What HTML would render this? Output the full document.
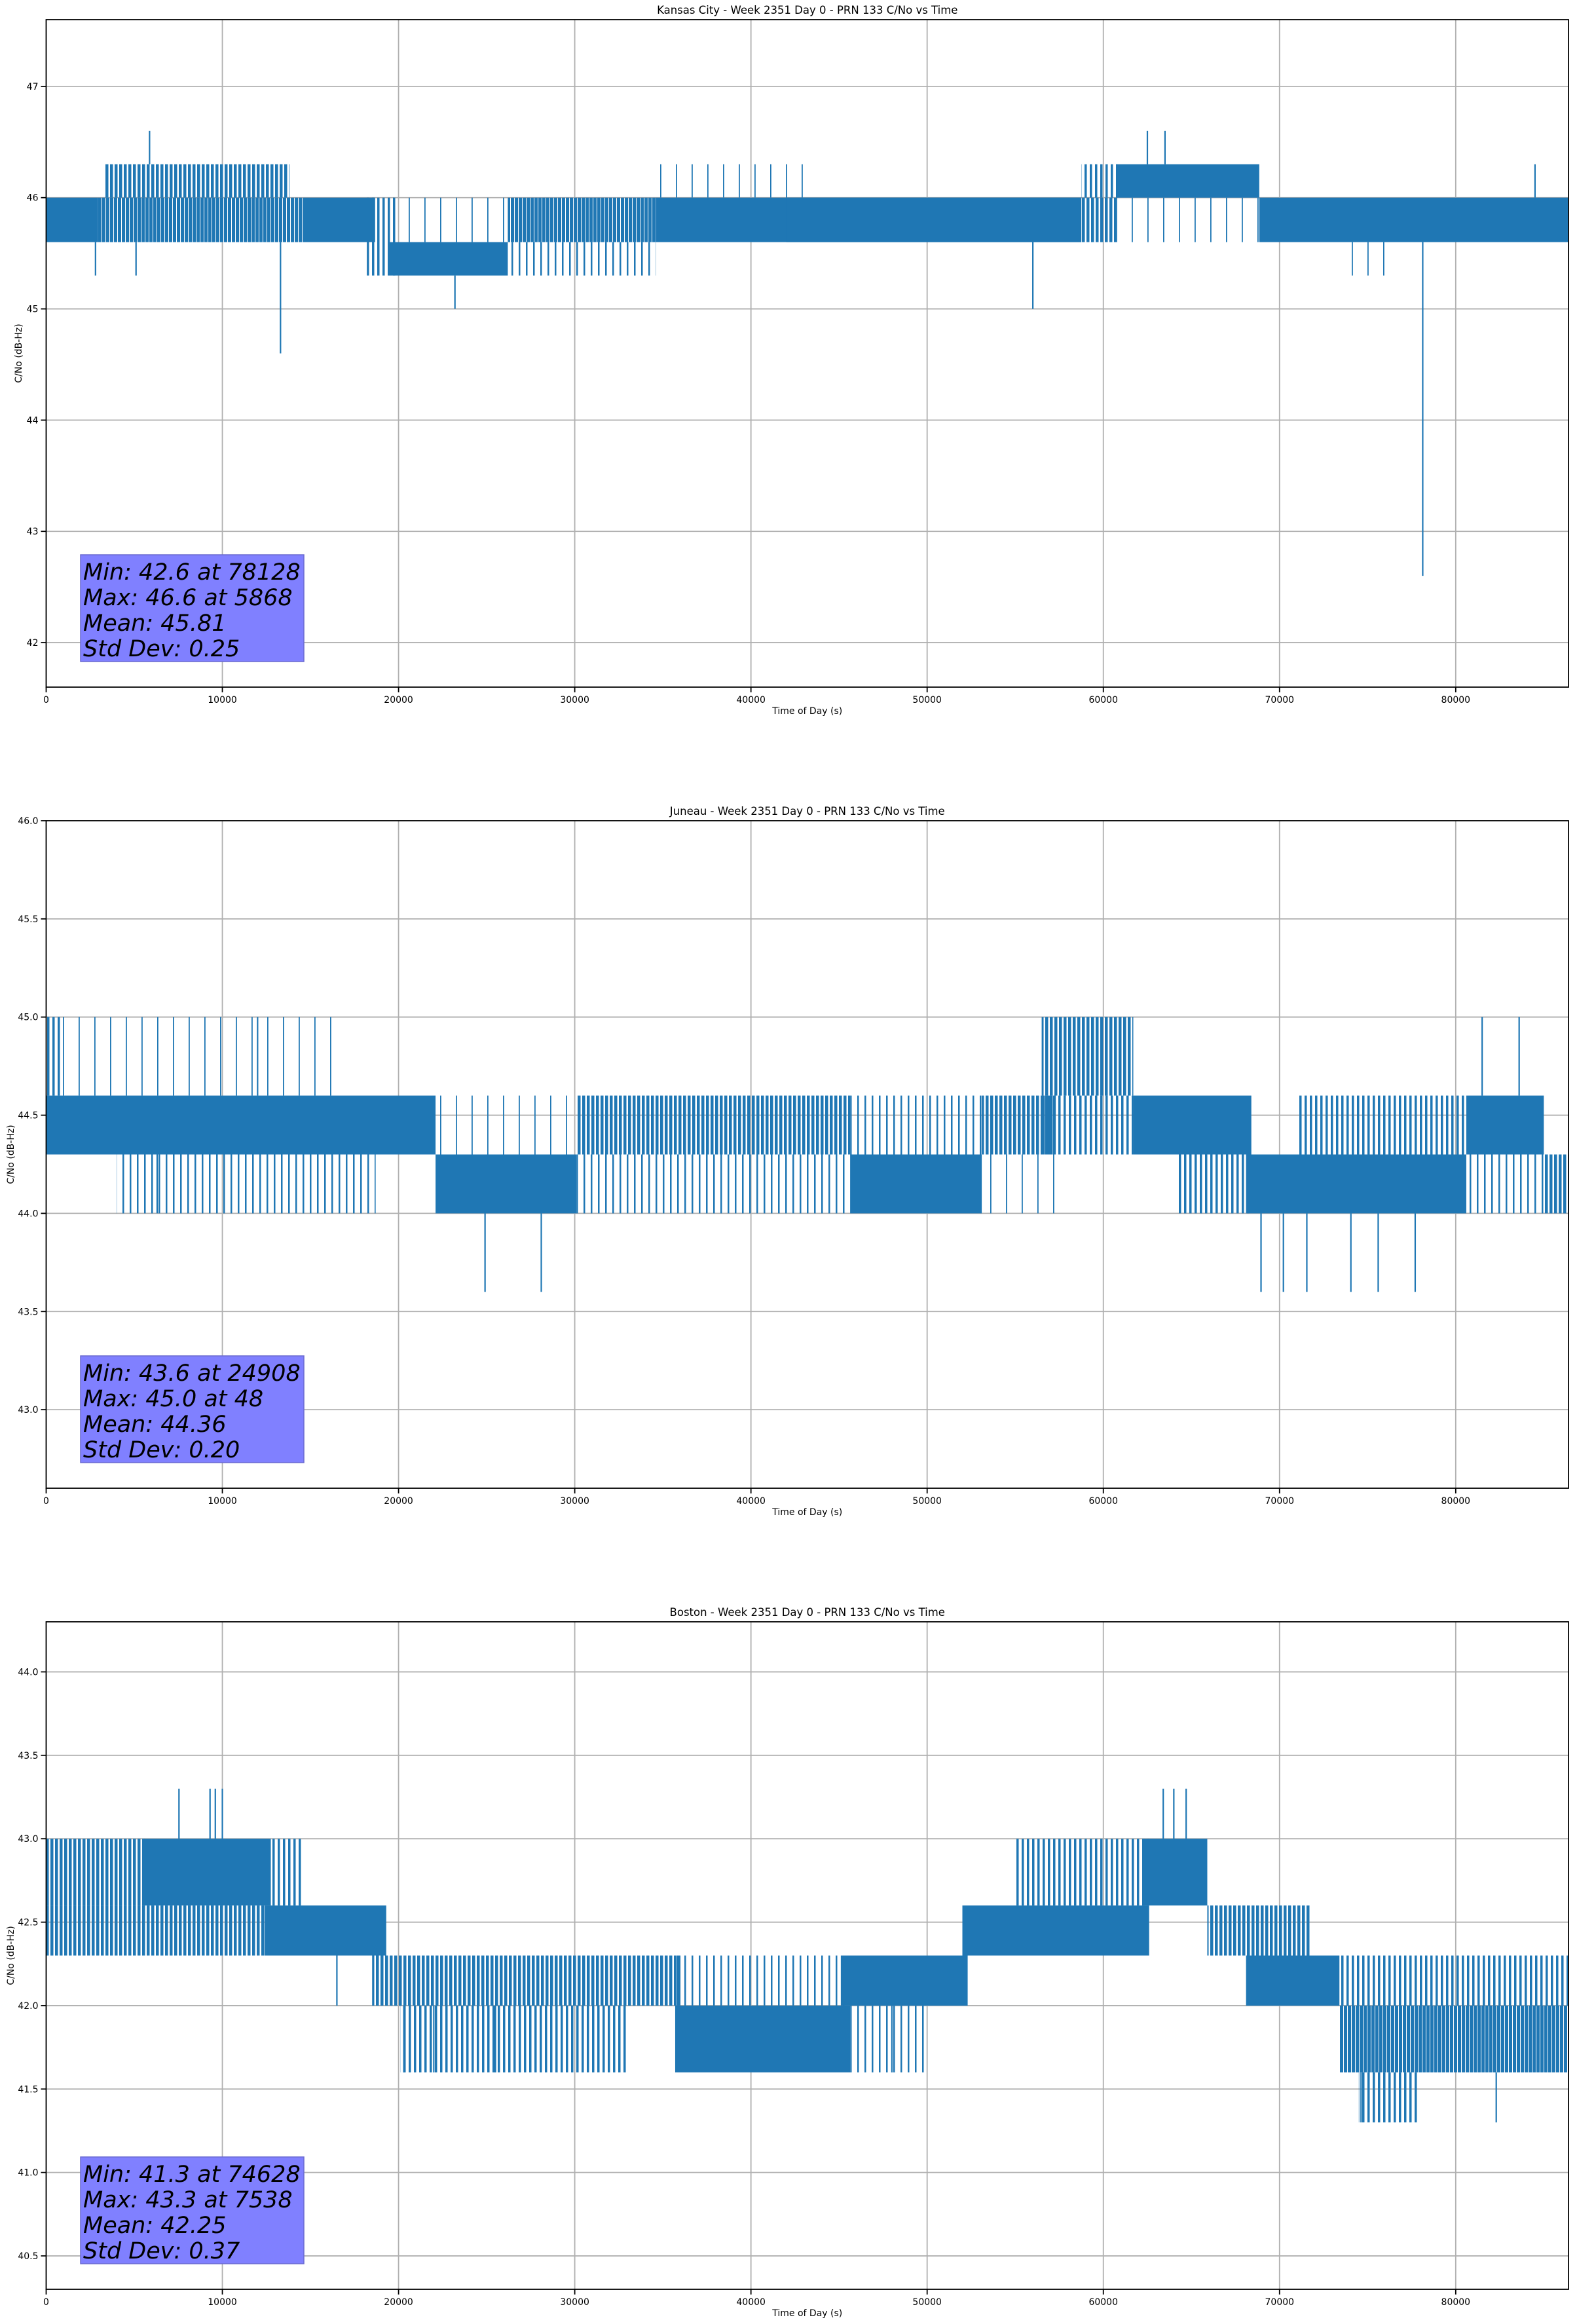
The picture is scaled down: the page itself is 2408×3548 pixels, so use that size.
<!DOCTYPE html>
<html><head><meta charset="utf-8">
<style>
html,body{margin:0;padding:0;background:#fff;}
svg{display:block;}
text{font-family:"DejaVu Sans","Liberation Sans",sans-serif;fill:#000;}
</style></head>
<body>
<svg id="fig" width="2408" height="3548" viewBox="0 0 2408 3548" xmlns="http://www.w3.org/2000/svg">
<defs>
<pattern id="p9" width="6" height="10" patternUnits="userSpaceOnUse"><rect width="5" height="10" fill="#1f77b4"/></pattern>
<pattern id="p7" width="7" height="10" patternUnits="userSpaceOnUse"><rect width="4.5" height="10" fill="#1f77b4"/></pattern>
<pattern id="p5" width="8" height="10" patternUnits="userSpaceOnUse"><rect width="3.5" height="10" fill="#1f77b4"/></pattern>
<pattern id="p3" width="11" height="10" patternUnits="userSpaceOnUse"><rect width="2.5" height="10" fill="#1f77b4"/></pattern>
<pattern id="p1" width="24" height="10" patternUnits="userSpaceOnUse"><rect width="1.8" height="10" fill="#1f77b4"/></pattern>
</defs>
</svg>
<script>
// ---- shared axis data ----
const xTicks = [0,10000,20000,30000,40000,50000,60000,70000,80000];
const xMax = 86400;

// ---- Kansas City ----
const kcTitle = "Kansas City - Week 2351 Day 0 - PRN 133 C/No vs Time";
const kcYLim = [41.6, 47.6];
const kcYTicks = [42,43,44,45,46,47];
const kcYTickLabels = ["42","43","44","45","46","47"];
const kcSegStart = [0,2950,3300,14550,18200,19500,19500,26200,26200,34600,34600,42000,58750,58750,60750,60750,68850,73300];
const kcSegEnd   = [2950,14550,13800,18670,19900,26200,26200,34600,34600,58750,43000,58750,60800,60800,68850,68850,86400,76700];
const kcSegLo    = [45.6,45.6,46.0,45.6,45.3,45.3,45.6,45.6,45.3,45.6,46.0,45.6,46.0,45.6,46.0,45.6,45.6,45.3];
const kcSegHi    = [46.0,46.0,46.3,46.0,46.0,45.6,46.0,46.0,45.6,46.0,46.3,46.0,46.3,46.0,46.3,46.0,46.0,45.6];
const kcSegDen   = [1,0.85,0.6,1,0.5,1,0.1,0.8,0.3,1,0.1,1,0.5,0.7,1,0.1,1,0.1];
const kcSpikeT   = [5868,13300,23200,56000,62500,63500,78128,2800,5100,84500];
const kcSpikeFrom= [46.3,45.6,45.3,45.6,46.3,46.3,45.6,45.6,45.6,46.0];
const kcSpikeTo  = [46.6,44.6,45.0,45.0,46.6,46.6,42.6,45.3,45.3,46.3];
const kcStats = ["Min: 42.6 at 78128","Max: 46.6 at 5868","Mean: 45.81","Std Dev: 0.25"];

// ---- Juneau ----
const jnTitle = "Juneau - Week 2351 Day 0 - PRN 133 C/No vs Time";
const jnYLim = [42.6, 46.0];
const jnYTicks = [43.0,43.5,44.0,44.5,45.0,45.5,46.0];
const jnYTickLabels = ["43.0","43.5","44.0","44.5","45.0","45.5","46.0"];
const jnSegStart = [0,0,4000,0,22100,22100,30100,30100,45650,45650,53100,53100,56500,56500,61700,64200,68100,71000,80600,80600,85000];
const jnSegEnd   = [800,22100,18700,16800,30100,30100,45650,45650,53100,53100,57300,57300,61700,61700,68400,68400,80600,80600,85000,85000,86400];
const jnSegLo    = [44.6,44.3,44.0,44.6,44.0,44.3,44.3,44.0,44.0,44.3,44.3,44.0,44.6,44.3,44.3,44.0,44.0,44.3,44.3,44.0,44.0];
const jnSegHi    = [45.0,44.6,44.3,45.0,44.3,44.6,44.6,44.3,44.3,44.6,44.6,44.3,45.0,44.6,44.6,44.3,44.3,44.6,44.6,44.3,44.3];
const jnSegDen   = [0.5,1,0.3,0.1,1,0.1,0.7,0.3,1,0.3,0.7,0.1,0.7,0.5,1,0.5,1,0.5,1,0.3,0.7];
const jnSpikeT   = [24908,28100,68950,70220,71550,74050,75600,77700,81500,83600,12000,6300];
const jnSpikeFrom= [44.0,44.0,44.0,44.0,44.0,44.0,44.0,44.0,44.6,44.6,44.6,44.3];
const jnSpikeTo  = [43.6,43.6,43.6,43.6,43.6,43.6,43.6,43.6,45.0,45.0,45.0,44.0];
const jnStats = ["Min: 43.6 at 24908","Max: 45.0 at 48","Mean: 44.36","Std Dev: 0.20"];

// ---- Boston ----
const bsTitle = "Boston - Week 2351 Day 0 - PRN 133 C/No vs Time";
const bsYLim = [40.3, 44.3];
const bsYTicks = [40.5,41.0,41.5,42.0,42.5,43.0,43.5,44.0];
const bsYTickLabels = ["40.5","41.0","41.5","42.0","42.5","43.0","43.5","44.0"];
const bsSegStart = [0,0,5550,12750,12400,18500,20100,35700,35700,45100,45650,52000,55000,62300,65900,68100,73400,73400,74500];
const bsSegEnd   = [5700,12400,12750,14470,19300,36000,32900,45650,45650,52300,50000,62600,62600,65900,71700,73400,86400,86400,77800];
const bsSegLo    = [42.6,42.3,42.6,42.6,42.3,42.0,41.6,41.6,42.0,42.0,41.6,42.3,42.6,42.6,42.3,42.0,41.6,42.0,41.3];
const bsSegHi    = [43.0,42.6,43.0,43.0,42.6,42.3,42.0,42.0,42.3,42.3,42.0,42.6,43.0,43.0,42.6,42.3,42.0,42.3,41.6];
const bsSegDen   = [0.6,0.75,1,0.5,1,0.7,0.5,1,0.3,1,0.3,1,0.5,1,0.7,1,0.9,0.5,0.5];
const bsSpikeT   = [7538,9300,9600,10000,63400,64000,64700,20300,22000,25500,74628,82300,16500,48000];
const bsSpikeFrom= [43.0,43.0,43.0,43.0,43.0,43.0,43.0,42.0,42.0,42.0,41.6,41.6,42.3,42.0];
const bsSpikeTo  = [43.3,43.3,43.3,43.3,43.3,43.3,43.3,41.6,41.6,41.6,41.3,41.3,42.0,41.6];
const bsStats = ["Min: 41.3 at 74628","Max: 43.3 at 7538","Mean: 42.25","Std Dev: 0.37"];

const NS = "http://www.w3.org/2000/svg";
const fig = document.getElementById('fig');
const AX_L = 70.5, AX_R = 2395, AX_H = 1019;
const tops = [30, 1253, 2476];

function mk(tag, attrs, parent){
  const e = document.createElementNS(NS, tag);
  for (const k in attrs) e.setAttribute(k, attrs[k]);
  parent.appendChild(e);
  return e;
}
function patFor(d){
  if (d >= 0.95) return "#1f77b4";
  if (d >= 0.8) return "url(#p9)";
  if (d >= 0.6) return "url(#p7)";
  if (d >= 0.4) return "url(#p5)";
  if (d >= 0.2) return "url(#p3)";
  return "url(#p1)";
}

function drawChart(idx, key, title, yLim, yTicks, yLabels, sS, sE, sL, sH, sD, kT, kF, kTo, stats){
  const top = tops[idx], bot = top + AX_H;
  const xs = v => AX_L + (v / xMax) * (AX_R - AX_L);
  const ys = v => bot - (v - yLim[0]) / (yLim[1] - yLim[0]) * AX_H;
  const g = mk('g', {}, fig);
  
  

  const grid = mk('g', {stroke:'#b0b0b0','stroke-width':1.8}, g);
  
  
  xTicks.forEach(t => mk('line', {x1:xs(t), x2:xs(t), y1:top, y2:bot}, grid));
  yTicks.forEach(t => mk('line', {x1:AX_L, x2:AX_R, y1:ys(t), y2:ys(t)}, grid));

  const clip = mk('clipPath', {id:'clip'+idx}, g);
  mk('rect', {x:AX_L, y:top, width:AX_R-AX_L, height:AX_H}, clip);
  const dg = mk('g', {'clip-path':'url(#clip'+idx+')'}, g);
  
  
  for (let i = 0; i < sS.length; i++){
    const r = mk('rect', {x:xs(sS[i]), width:Math.max(1.5, xs(sE[i]) - xs(sS[i])),
      y:ys(sH[i]), height:Math.max(2, ys(sL[i]) - ys(sH[i])), fill:patFor(sD[i])}, dg);
    
    
  }
  for (let i = 0; i < kT.length; i++){
    const l = mk('line', {x1:xs(kT[i]), x2:xs(kT[i]), y1:ys(kF[i]), y2:ys(kTo[i]), stroke:'#1f77b4','stroke-width':2.2}, dg);
    
    
  }

  const sp = mk('rect', {x:AX_L, y:top, width:AX_R-AX_L, height:AX_H, fill:'none', stroke:'#000','stroke-width':1.8}, g);
  
  

  const tg = mk('g', {}, g);
  
  
  xTicks.forEach(t => {
    mk('line', {x1:xs(t), x2:xs(t), y1:bot, y2:bot+8, stroke:'#000','stroke-width':1.8}, tg);
    const tx = mk('text', {x:xs(t), y:bot+24, 'font-size':14, 'text-anchor':'middle'}, tg);
    tx.textContent = String(t);
    
    
  });
  const yg = mk('g', {}, g);
  
  
  yTicks.forEach((t, i) => {
    mk('line', {x1:AX_L-8, x2:AX_L, y1:ys(t), y2:ys(t), stroke:'#000','stroke-width':1.8}, yg);
    const tx = mk('text', {x:AX_L-12, y:ys(t)+5, 'font-size':14, 'text-anchor':'end'}, yg);
    tx.textContent = yLabels[i];
    
    
  });

  const tt = mk('text', {x:(AX_L+AX_R)/2, y:top-9, 'font-size':16.5, 'text-anchor':'middle'}, g);
  tt.textContent = title;
  
  
  const xl = mk('text', {x:(AX_L+AX_R)/2, y:bot+41, 'font-size':14, 'text-anchor':'middle'}, g);
  xl.textContent = "Time of Day (s)";
  
  
  const ylx = idx === 0 ? 33 : 21;
  const yl = mk('text', {x:ylx, y:(top+bot)/2, 'font-size':14, 'text-anchor':'middle', transform:'rotate(-90 '+ylx+' '+((top+bot)/2)+')'}, g);
  yl.textContent = "C/No (dB-Hz)";
  
  

  const bg = mk('g', {}, g);
  
  
  mk('rect', {x:123, y:bot-202, width:341, height:163, fill:'#8080ff', stroke:'#6a6ad0','stroke-width':1.5}, bg);
  stats.forEach((s, i) => {
    const tx = mk('text', {x:127, y:bot-202+38+i*39, 'font-size':35, 'font-style':'italic'}, bg);
    tx.textContent = s;
    
    
  });
}

drawChart(0, 'kansas-city', kcTitle, kcYLim, kcYTicks, kcYTickLabels, kcSegStart, kcSegEnd, kcSegLo, kcSegHi, kcSegDen, kcSpikeT, kcSpikeFrom, kcSpikeTo, kcStats);
drawChart(1, 'juneau', jnTitle, jnYLim, jnYTicks, jnYTickLabels, jnSegStart, jnSegEnd, jnSegLo, jnSegHi, jnSegDen, jnSpikeT, jnSpikeFrom, jnSpikeTo, jnStats);
drawChart(2, 'boston', bsTitle, bsYLim, bsYTicks, bsYTickLabels, bsSegStart, bsSegEnd, bsSegLo, bsSegHi, bsSegDen, bsSpikeT, bsSpikeFrom, bsSpikeTo, bsStats);
</script>
</body></html>
